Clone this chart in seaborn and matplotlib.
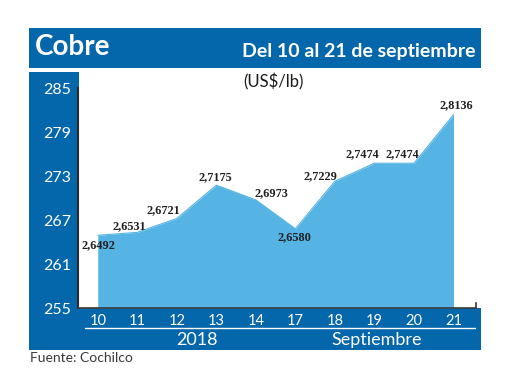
import matplotlib
matplotlib.use("Agg")
import matplotlib.pyplot as plt
from matplotlib.patches import Rectangle
import seaborn as sns
import pandas as pd

# data (US cents per lb, labels in US$/lb)
days = ["10", "11", "12", "13", "14", "17", "18", "19", "20", "21"]
precio = [264.92, 265.31, 267.21, 271.75, 269.73, 265.80, 272.29, 274.74, 274.74, 281.36]
etiquetas = ["2,6492", "2,6531", "2,6721", "2,7175", "2,6973",
             "2,6580", "2,7229", "2,7474", "2,7474", "2,8136"]
y_ticks = [255, 261, 267, 273, 279, 285]

# label offsets (points) relative to each point
offsets = [(0.7, -7), (-6, 4.8), (-9.4, 5.8), (-1, 6.1), (11, 5.2),
           (-1, -6.3), (-10.3, 3.4), (-8.6, 6.8), (-8, 6.8), (1.8, 7.2)]

AZUL = "#0466ab"
CELESTE = "#55b4e3"
W, H = 520, 390

sns.set_style("white")
plt.rcParams["font.family"] = ["Lato", "DejaVu Sans"]

df = pd.DataFrame({"x": range(len(days)), "precio": precio})

fig = plt.figure(figsize=(W / 100, H / 100), dpi=100)


def px_rect(x0, y0, x1, y1, **kw):
    # rectangle given in pixel coords (origin top-left)
    r = Rectangle((x0 / W, 1 - y1 / H), (x1 - x0) / W, (y1 - y0) / H,
                  transform=fig.transFigure, zorder=-1, lw=0, **kw)
    fig.patches.append(r)


px_rect(29, 28, 481, 68, facecolor=AZUL)
px_rect(29, 72, 79, 350, facecolor=AZUL)
px_rect(79, 308, 481, 350, facecolor=AZUL)

ax = fig.add_axes([78 / W, (H - 308) / H, 398 / W, 220 / H])
ax.set_facecolor("none")

sns.lineplot(data=df, x="x", y="precio", color=CELESTE, linewidth=0.8, ax=ax)
ax.fill_between(df["x"], 255, df["precio"], color=CELESTE, lw=0)

for i, (v, t) in enumerate(zip(precio, etiquetas)):
    ax.annotate(t, (i, v), xytext=offsets[i], textcoords="offset points",
                ha="center", va="center", fontsize=8.8, fontweight="bold",
                family=["Liberation Serif", "DejaVu Serif"], color="#231f20")

ax.set_xlim(-0.5, 9.57)
ax.set_ylim(255, 285)
ax.set_yticks(y_ticks)
ax.set_xticks(range(len(days)))
ax.set_xticklabels(days)
ax.set_xlabel("")
ax.set_ylabel("")

ax.tick_params(axis="y", direction="in", length=6.5, width=1.5, color="#2a2a2a",
               labelcolor="white", labelsize=11.5, pad=5)
ax.tick_params(axis="x", length=0, labelcolor="white", labelsize=10.5, pad=4)

ax.spines["top"].set_visible(False)
ax.spines["left"].set_color("#2a2a2a")
ax.spines["left"].set_linewidth(1.5)
ax.spines["bottom"].set_color("#3a3a3a")
ax.spines["bottom"].set_linewidth(1.2)
ax.spines["right"].set_color("#3a3a3a")
ax.spines["right"].set_linewidth(1.2)
ax.spines["right"].set_bounds(255, 255.7)

# header texts
fig.text(35 / W, 1 - 47 / H, "Cobre", color="white", fontsize=20,
         fontweight="bold", ha="left", va="center")
fig.text(475 / W, 1 - 52 / H, "Del 10 al 21 de septiembre", color="white",
         fontsize=14, fontweight="bold", ha="right", va="center")
fig.text(273 / W, 1 - 82 / H, "(US$/lb)", color="#1a1a1a", fontsize=12,
         ha="center", va="center")

# bottom band
fig.add_artist(plt.Line2D([85 / W, 475 / W], [1 - 328 / H, 1 - 328 / H],
                          transform=fig.transFigure, color="white", lw=1))
fig.text(197 / W, 1 - 340 / H, "2018", color="white", fontsize=13,
         ha="center", va="center")
fig.text(377 / W, 1 - 340 / H, "Septiembre", color="white", fontsize=13,
         ha="center", va="center")
fig.text(30 / W, 1 - 358 / H, "Fuente: Cochilco", color="#3a3a3a",
         fontsize=10, ha="left", va="center")

fig.savefig("out.png", dpi=100)
